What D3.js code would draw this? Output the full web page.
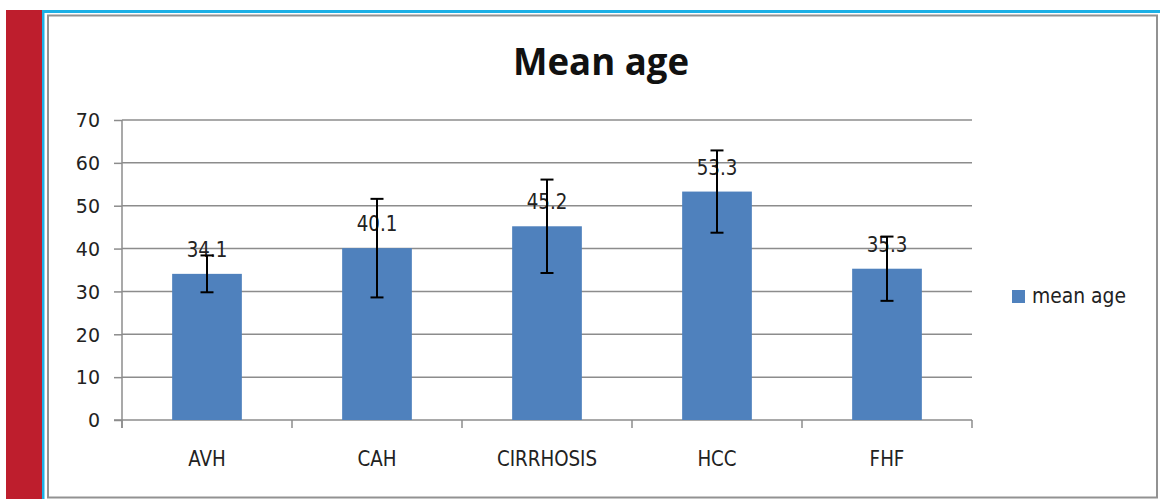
<!DOCTYPE html>
<html><head><meta charset="utf-8">
<script src="https://cdn.jsdelivr.net/npm/d3@7"></script>
<style>html,body{margin:0;padding:0;background:#fff;overflow:hidden}</style>
</head><body><svg id="c" width="1160" height="499"></svg>
<script>
const categories = ["AVH", "CAH", "CIRRHOSIS", "HCC", "FHF"];
const meanAge = [34.1, 40.1, 45.2, 53.3, 35.3];
const errorAmt = [4.3, 11.5, 10.9, 9.6, 7.5];
const dataLabels = ["34.1", "40.1", "45.2", "53.3", "35.3"];
const yTicks = [0, 10, 20, 30, 40, 50, 60, 70];
const seriesName = "mean age";
const chartTitle = "Mean age";

const svg = d3.select("#c");
const W = 1160, H = 499;
const plot = {left: 122, right: 972, top: 120, bottom: 420};

// decorative page frame
svg.append("rect").attr("x", 6).attr("y", 10).attr("width", 36).attr("height", H).attr("fill", "#be1e2d");
svg.append("rect").attr("x", 42).attr("y", 10).attr("width", W - 42).attr("height", 3).attr("fill", "#1cb0e6");
svg.append("rect").attr("x", 42).attr("y", 10).attr("width", 2.5).attr("height", H).attr("fill", "#1cb0e6");
svg.append("rect").attr("x", 48).attr("y", 15.5).attr("width", 1109).attr("height", 482)
  .attr("fill", "#fff").attr("stroke", "#929292").attr("stroke-width", 2);

const x = d3.scaleBand().domain(categories).range([plot.left, plot.right])
  .paddingInner(0.59).paddingOuter(0.295);
const y = d3.scaleLinear().domain([0, 70]).range([plot.bottom, plot.top]);

// gridlines
svg.append("g").selectAll("line").data(yTicks.filter(d => d > 0)).join("line")
  .attr("x1", plot.left).attr("x2", plot.right)
  .attr("y1", d => y(d)).attr("y2", d => y(d))
  .attr("stroke", "#8c8c8c").attr("stroke-width", 1.5);

// y axis
const yAxis = svg.append("g").attr("transform", `translate(${plot.left},0)`)
  .call(d3.axisLeft(y).tickValues(yTicks).tickSize(8).tickPadding(0).tickFormat(d3.format("d")));
yAxis.select(".domain").attr("stroke", "#8c8c8c").attr("stroke-width", 1.5)
  .attr("d", `M0,${plot.top}V${plot.bottom + 8}`);
yAxis.selectAll(".tick line").attr("stroke", "#8c8c8c").attr("stroke-width", 1.5);
yAxis.selectAll(".tick text").attr("x", -22).attr("dy", "0.36em")
  .attr("font-family", "DejaVu Sans, Verdana, sans-serif").attr("font-size", 19).attr("fill", "#222");

// x axis line and boundary ticks
svg.append("line").attr("x1", plot.left - 8).attr("x2", plot.right)
  .attr("y1", y(0)).attr("y2", y(0)).attr("stroke", "#8c8c8c").attr("stroke-width", 1.5);
const boundaries = d3.range(categories.length + 1).map(i => plot.left + i * x.step());
svg.append("g").selectAll("line").data(boundaries).join("line")
  .attr("x1", d => d).attr("x2", d => d).attr("y1", y(0)).attr("y2", y(0) + 8)
  .attr("stroke", "#8c8c8c").attr("stroke-width", 1.5);

// x labels
const xAxis = svg.append("g").attr("transform", `translate(0,${plot.bottom})`)
  .call(d3.axisBottom(x).tickSize(0).tickPadding(0));
xAxis.select(".domain").remove();
xAxis.selectAll(".tick text").attr("y", 0).attr("dy", 0)
  .attr("transform", "translate(0,46) scale(0.87,1)")
  .attr("font-family", "DejaVu Sans, Verdana, sans-serif").attr("font-size", 21).attr("fill", "#222");

// bars
const data = categories.map((c, i) => ({c, v: meanAge[i], e: errorAmt[i], lab: dataLabels[i]}));
svg.append("g").selectAll("rect").data(data).join("rect")
  .attr("x", d => x(d.c)).attr("width", x.bandwidth())
  .attr("y", d => y(d.v)).attr("height", d => y(0) - y(d.v))
  .attr("fill", "#4f81bd");

// data labels
svg.append("g").selectAll("text").data(data).join("text")
  .attr("transform", d => `translate(${x(d.c) + x.bandwidth() / 2},${y(d.v) - 17}) scale(0.87,1)`)
  .attr("text-anchor", "middle")
  .attr("font-family", "DejaVu Sans, Verdana, sans-serif").attr("font-size", 21).attr("fill", "#222")
  .text(d => d.lab);

// error bars
const eb = svg.append("g").attr("stroke", "#000").attr("stroke-width", 2);
data.forEach(d => {
  const cx = x(d.c) + x.bandwidth() / 2;
  eb.append("line").attr("x1", cx).attr("x2", cx).attr("y1", y(d.v + d.e)).attr("y2", y(d.v - d.e));
  eb.append("line").attr("x1", cx - 6.5).attr("x2", cx + 6.5).attr("y1", y(d.v + d.e)).attr("y2", y(d.v + d.e));
  eb.append("line").attr("x1", cx - 6.5).attr("x2", cx + 6.5).attr("y1", y(d.v - d.e)).attr("y2", y(d.v - d.e));
});

// title
svg.append("text").attr("x", 601).attr("y", 75).attr("text-anchor", "middle")
  .attr("font-family", "Open Sans, Lato, sans-serif").attr("font-weight", 700).attr("font-size", 37)
  .attr("textLength", 176).attr("lengthAdjust", "spacingAndGlyphs").attr("fill", "#111")
  .text(chartTitle);

// legend
const lg = svg.append("g").attr("transform", "translate(1012,290)");
lg.append("rect").attr("width", 13).attr("height", 13).attr("fill", "#4f81bd");
lg.append("text").attr("x", 20).attr("y", 13).attr("font-family", "DejaVu Sans, Verdana, sans-serif")
  .attr("font-size", 22).attr("textLength", 94).attr("lengthAdjust", "spacingAndGlyphs").attr("fill", "#222")
  .text(seriesName);
</script></body></html>
